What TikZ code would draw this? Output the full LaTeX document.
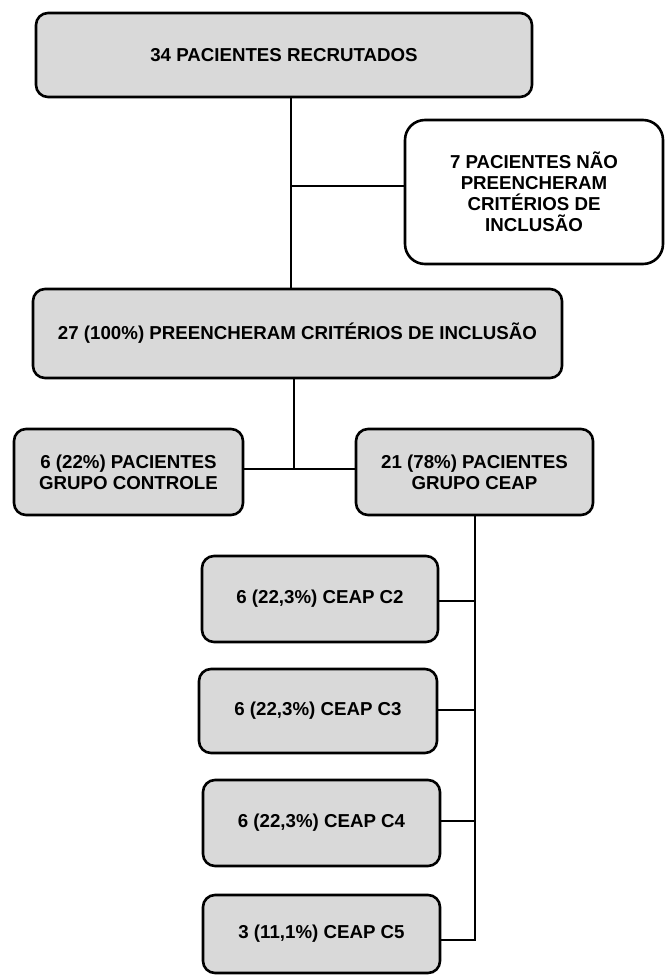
\documentclass[tikz,border=0pt]{standalone}
\usepackage{fontspec}
\setmainfont{Liberation Sans}
\definecolor{boxgray}{HTML}{D9D9D9}
\begin{document}
\begin{tikzpicture}[x=1pt,y=-1pt,
  box/.style={draw=black, line width=2.6pt, fill=boxgray, rounded corners=12pt,
    align=center, inner sep=0pt, font=\fontsize{18.7}{21}\selectfont\bfseries},
  whitebox/.style={box, fill=white, rounded corners=20pt},
  link/.style={draw=black, line width=2pt}]
\useasboundingbox (0,0) rectangle (664,976);

% main flow boxes
\node[box, minimum width=496pt, minimum height=84pt] (rec) at (284,55) {34 PACIENTES RECRUTADOS};
\node[whitebox, minimum width=258pt, minimum height=144pt] (exc) at (534,192)
  {7 PACIENTES NÃO\\PREENCHERAM\\CRITÉRIOS DE\\INCLUSÃO};
\node[box, minimum width=529pt, minimum height=89pt] (inc) at (297.5,333.5)
  {27 (100\%) PREENCHERAM CRITÉRIOS DE INCLUSÃO};
\node[box, minimum width=229pt, minimum height=86pt] (ctl) at (128.5,472)
  {6 (22\%) PACIENTES\\GRUPO CONTROLE};
\node[box, minimum width=237pt, minimum height=86pt] (ceap) at (474.5,472)
  {21 (78\%) PACIENTES\\GRUPO CEAP};

% CEAP classes
\node[box, minimum width=236pt, minimum height=86pt] (c2) at (320,599) {6 (22,3\%) CEAP C2};
\node[box, minimum width=238pt, minimum height=84pt] (c3) at (318,711) {6 (22,3\%) CEAP C3};
\node[box, minimum width=237pt, minimum height=86pt] (c4) at (321.5,823) {6 (22,3\%) CEAP C4};
\node[box, minimum width=237pt, minimum height=78pt] (c5) at (321.5,934) {3 (11,1\%) CEAP C5};

% connector axes and junctions
\coordinate (ax1) at (291,0);
\coordinate (jx) at (291,186);
\coordinate (ax2) at (294,0);
\coordinate (jg) at (294,469);
\coordinate (ax3) at (475,0);
\coordinate (jc2) at (475,601);
\coordinate (jc3) at (475,710);
\coordinate (jc4) at (475,821);
\coordinate (jc5) at (475,940);

\draw[link] (rec.south -| ax1) -- (inc.north -| ax1);
\draw[link] (jx) -- (jx -| exc.west);
\draw[link] (inc.south -| ax2) -- (jg);
\draw[link] (jg -| ctl.east) -- (jg -| ceap.west);
\draw[link] (ceap.south -| ax3) -- (jc5) -- (jc5 -| c5.east);
\draw[link] (jc2) -- (jc2 -| c2.east);
\draw[link] (jc3) -- (jc3 -| c3.east);
\draw[link] (jc4) -- (jc4 -| c4.east);
\end{tikzpicture}
\end{document}
